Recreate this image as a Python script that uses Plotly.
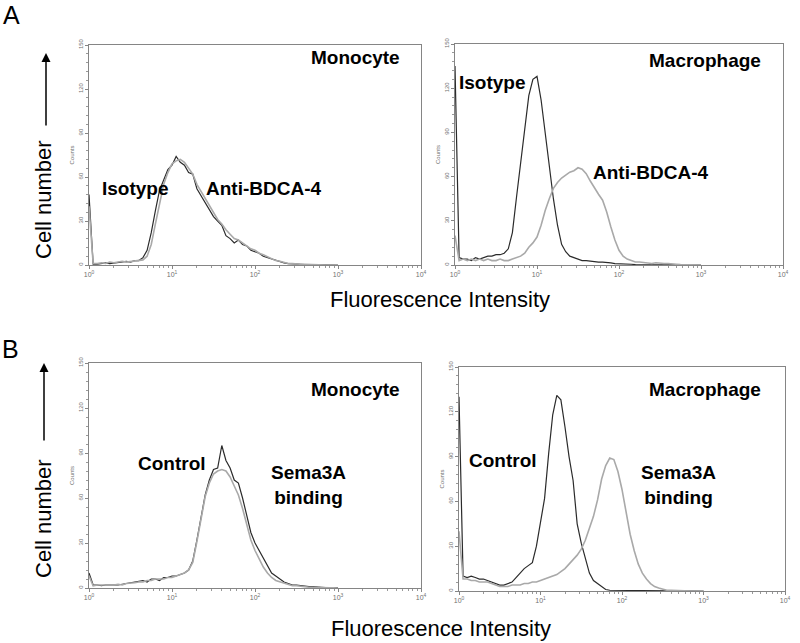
import plotly.graph_objects as go

# fluorescence channel, in decades (10^0 .. 10^3)
log_fl = [0.00, 0.05, 0.10, 0.15, 0.20, 0.25, 0.30, 0.35, 0.40, 0.45,
          0.50, 0.55, 0.60, 0.65, 0.70, 0.75, 0.80, 0.85, 0.90, 0.95,
          1.00, 1.05, 1.10, 1.15, 1.20, 1.25, 1.30, 1.35, 1.40, 1.45,
          1.50, 1.55, 1.60, 1.65, 1.70, 1.75, 1.80, 1.85, 1.90, 1.95,
          2.00, 2.05, 2.10, 2.15, 2.20, 2.25, 2.30, 2.35, 2.40, 2.45,
          2.50, 2.55, 2.60, 2.65, 2.70, 2.75, 2.80, 2.85, 2.90, 2.95,
          3.00]

# A - monocyte
iso_mono = [48, 0.5, 0.5, 1, 1.5, 1, 1.5, 2, 2, 2.5,
            2, 3, 3, 5, 10, 22, 37, 51, 58, 65,
            68, 74, 70, 68, 63, 62, 52, 47, 42, 38,
            33, 30, 27, 20, 18, 15, 17, 14, 13, 10,
            9, 8, 6, 5, 4, 3, 2, 1.5, 1, 1,
            0.5, 0.5, 0.3, 0.3, 0.5, 0.2, 0, 0, 0, 0,
            0]
anti_mono = [40, 1, 1, 1.5, 1, 2, 1.5, 2, 2.5, 2,
             2.5, 3, 3, 3.5, 6, 14, 28, 42, 55, 63,
             69, 71, 72, 70, 66, 62, 55, 50, 45, 40,
             35, 31, 28, 24, 21, 18, 17, 15, 13, 11,
             10, 8, 7, 5.5, 4, 3, 2.5, 1.5, 1, 1,
             0.5, 0.5, 0.5, 0.3, 0.3, 0.2, 0, 0, 0, 0,
             0]
# A - macrophage
iso_macro = [135, 5, 4, 4, 3, 5, 4, 5, 6, 6,
             7, 7, 8, 11, 22, 46, 68, 92, 115, 126,
             128, 112, 90, 66, 45, 27, 14, 9, 6, 5,
             4, 3, 3, 2.5, 2.5, 2, 2, 2, 1.5, 1,
             1, 0.5, 0.5, 0.5, 0.3, 0.3, 0.2, 0.2, 0, 0,
             0, 0, 0, 0, 0, 0, 0, 0, 0, 0,
             0]
anti_macro = [20, 3, 4, 3, 4, 3, 4, 3, 4, 3,
              3, 4, 3, 3, 4, 5, 6, 8, 12, 15,
              19, 27, 37, 45, 52, 56, 59, 61, 63, 64,
              66, 65, 62, 57, 52, 48, 44, 36, 26, 17,
              10, 6, 4, 3, 2, 2, 1.5, 1.5, 1, 1.5,
              1, 1, 1, 0.5, 0.5, 0.3, 0.2, 0.2, 0, 0,
              0]
# B - monocyte
ctrl_mono = [10, 2, 2, 1.5, 2, 2, 1.5, 2, 2.5, 3,
             3, 4, 4, 5, 4, 6, 6, 5, 7, 7,
             8, 8, 9, 10, 12, 18, 32, 47, 62, 72,
             79, 80, 95, 85, 80, 72, 70, 60, 48, 37,
             30, 25, 19, 14, 10, 8, 6, 4, 3, 2,
             2, 1.5, 1.5, 1, 1, 0.5, 0.5, 0.3, 0.3, 0.2,
             0.2]
sema_mono = [8, 1.5, 2, 2, 1.5, 2, 2, 2.5, 2, 3,
             3, 3.5, 4, 4, 5, 5, 6, 6, 6, 7,
             7, 8, 9, 10, 12, 17, 31, 46, 61, 70,
             76, 78, 79, 78, 74, 68, 62, 53, 42, 32,
             25, 19, 14, 10, 7, 5, 4, 3, 2, 1.5,
             1.5, 1, 1, 0.5, 0.5, 0.3, 0.3, 0.2, 0.2, 0.2,
             0]
# B - macrophage
ctrl_macro = [130, 10, 9, 10, 9, 8, 8, 7, 6, 5,
              4, 4, 5, 6, 9, 12, 15, 17, 19, 30,
              45, 62, 92, 118, 131, 128, 110, 90, 74, 45,
              32, 22, 12, 7, 5, 3, 1, 0.5, 0.5, 0.3,
              0.3, 0.2, 0.2, 0, 0, 0, 0, 0, 0, 0,
              0, 0, 0, 0, 0, 0, 0, 0, 0, 0,
              0]
sema_macro = [40, 8, 8, 7, 7, 6, 6, 6, 5, 4,
              3, 3, 3, 4, 4, 4, 5, 5, 6, 6,
              7, 8, 9, 10, 11, 13, 15, 18, 21, 24,
              28, 34, 42, 50, 61, 75, 84, 89, 88, 80,
              68, 52, 38, 27, 18, 12, 8, 5, 3, 2,
              1, 0.5, 0.5, 0.3, 0.3, 0.2, 0, 0, 0, 0,
              0]

x_tickvals = [1, 10, 100, 1000, 10000]
x_ticktext = ["10<sup>0</sup>", "10<sup>1</sup>", "10<sup>2</sup>", "10<sup>3</sup>", "10<sup>4</sup>"]
y_tickvals = [0, 30, 60, 90, 120, 150]

W, H = 800, 643
DARK = "#2b2b2b"
GRAY = "#a9a9a9"

def px(x, y):
    return x / W, 1 - y / H

x = [10 ** v for v in log_fl]
minor_x = [m * 10 ** d for d in range(4) for m in range(2, 10)]

# (dark, gray, left, right, top, bottom) in pixels
panels = [
    (iso_mono, anti_mono, 89, 421, 45, 265),
    (iso_macro, anti_macro, 455, 783, 44, 265),
    (ctrl_mono, sema_mono, 89, 421, 363, 588),
    (ctrl_macro, sema_macro, 459, 785, 367, 591),
]

fig = go.Figure()
layout = {}
for i, (dark, gray, l, r, t, b) in enumerate(panels):
    n = "" if i == 0 else str(i + 1)
    fig.add_trace(go.Scatter(x=x, y=dark, mode="lines", xaxis="x" + n, yaxis="y" + n,
                             line=dict(color=DARK, width=1.2)))
    fig.add_trace(go.Scatter(x=x, y=gray, mode="lines", xaxis="x" + n, yaxis="y" + n,
                             line=dict(color=GRAY, width=1.6)))
    x0, _ = px(l, 0)
    x1, _ = px(r, 0)
    _, y1 = px(0, t)
    _, y0 = px(0, b)
    layout["xaxis" + n] = dict(
        type="log", range=[0, 4], domain=[x0, x1], anchor="y" + n, automargin=False,
        showline=True, linecolor="#858585", linewidth=1, mirror=True,
        showgrid=False, zeroline=False,
        tickvals=x_tickvals, ticktext=x_ticktext, ticks="outside", ticklen=3,
        tickcolor="#858585", tickfont=dict(size=7, color="#707070", family="Arial"),
        minor=dict(tickvals=minor_x, ticks="outside", ticklen=2, tickcolor="#999999"),
    )
    layout["yaxis" + n] = dict(
        range=[0, 150], domain=[y0, y1], anchor="x" + n, automargin=False,
        showline=True, linecolor="#858585", linewidth=1, mirror=True,
        showgrid=False, zeroline=False,
        tickvals=y_tickvals, ticks="outside", ticklen=3, tickcolor="#858585",
        tickangle=-90, tickfont=dict(size=6, color="#707070", family="Arial"),
        minor=dict(dtick=6, ticks="outside", ticklen=2, tickcolor="#999999"),
        title=dict(text="Counts", font=dict(size=6, color="#707070", family="Arial"), standoff=2),
    )

ann = []

def label(text, xp, yp, size=19, bold=True, angle=0, yanchor="middle"):
    ax, ay = px(xp, yp)
    ann.append(dict(text=f"<b>{text}</b>" if bold else text, x=ax, y=ay, xref="paper", yref="paper",
                    showarrow=False, xanchor="center", yanchor=yanchor, textangle=angle, borderpad=0,
                    font=dict(size=size, color="black", family="Liberation Sans, Arial")))

label("A", 11, 0, size=25, bold=False, yanchor="top")
label("B", 10, 334, size=25, bold=False, yanchor="top")
label("Monocyte", 355, 58)
label("Isotype", 135, 188)
label("Anti-BDCA-4", 263, 188)
label("Macrophage", 705, 60)
label("Isotype", 492, 83)
label("Anti-BDCA-4", 650, 172)
label("Monocyte", 355, 390)
label("Control", 172, 463)
label("Sema3A<br>binding", 308, 485)
label("Macrophage", 705, 390)
label("Control", 503, 460)
label("Sema3A<br>binding", 678, 485)
label("Fluorescence Intensity", 440, 299, size=22, bold=False)
label("Fluorescence Intensity", 441, 628, size=22, bold=False)
label("Cell number", 43, 200, size=22, bold=False, angle=-90)
label("Cell number", 43, 519, size=22, bold=False, angle=-90)

for tip, tail in [((46, 53), (46, 127)), ((44, 363), (44, 442))]:
    tx, ty = px(*tip)
    ann.append(dict(text="", x=tx, y=ty, xref="paper", yref="paper", showarrow=True,
                    ax=0, ay=tail[1] - tip[1], arrowhead=2, arrowsize=1.2, arrowwidth=1.5,
                    arrowcolor="black"))

fig.update_layout(
    template="none",
    width=W, height=H, margin=dict(l=0, r=0, t=0, b=0),
    paper_bgcolor="white", plot_bgcolor="white", showlegend=False,
    annotations=ann, **layout,
)

# the page's default body margin would shift the figure by 8px
fig.write_html("out.html", config={"displayModeBar": False},
               post_script="document.body.style.margin='0';")
